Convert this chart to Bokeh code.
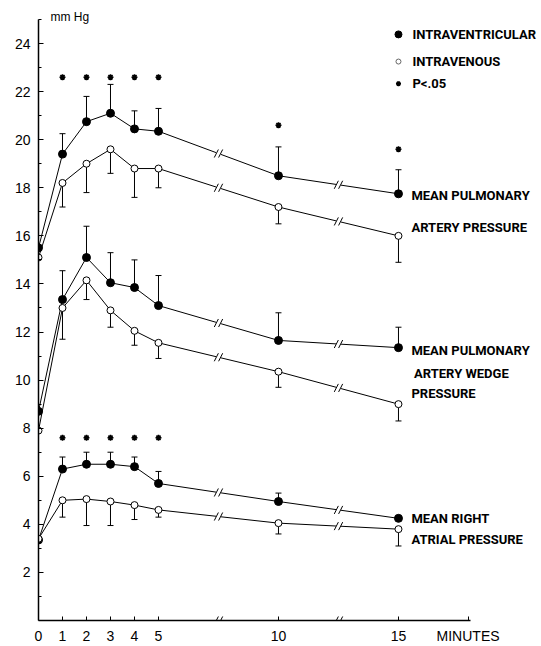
import numpy as np
from bokeh.plotting import figure
from bokeh.models import ColumnDataSource, Whisker, TeeHead, FixedTicker, Range1d
from bokeh.core.properties import value
from bokeh.embed import file_html
from bokeh.resources import INLINE

# ---------------- data ----------------
minutes = [0, 1, 2, 3, 4, 5, 10, 15]
x_tick_values = [0, 1, 2, 3, 4, 5, 10, 15]
x_title = "MINUTES"
y_tick_values = [2, 4, 6, 8, 10, 12, 14, 16, 18, 20, 22, 24]
y_minor_values = [1, 3, 5, 7, 9, 11, 13, 15, 17, 19, 21, 23, 25]
break_minutes = [7.5, 12.5]

# Mean pulmonary artery pressure
mpap_ventricular = [15.5, 19.4, 20.75, 21.1, 20.45, 20.35, 18.5, 17.75]
mpap_ventricular_upper = [None, 20.25, 21.8, 22.3, 21.2, 21.3, 19.7, 18.75]
mpap_venous = [15.1, 18.2, 19.0, 19.6, 18.8, 18.8, 17.2, 16.0]
mpap_venous_lower = [None, 17.2, 17.8, 18.6, 17.6, 18.0, 16.5, 14.9]
mpap_sig_minutes = [1, 2, 3, 4, 5, 10, 15]
mpap_sig_y = [22.6, 22.6, 22.6, 22.6, 22.6, 20.6, 19.6]

# Mean pulmonary artery wedge pressure
mpaw_ventricular = [8.7, 13.35, 15.1, 14.05, 13.85, 13.1, 11.65, 11.35]
mpaw_ventricular_upper = [None, 14.55, 16.4, 15.3, 15.0, 14.35, 12.8, 12.2]
mpaw_venous = [7.9, 13.0, 14.15, 12.9, 12.05, 11.55, 10.35, 9.0]
mpaw_venous_lower = [None, 11.7, 13.35, 12.2, 11.45, 10.9, 9.7, 8.3]

# Mean right atrial pressure
mrap_ventricular = [3.35, 6.3, 6.5, 6.5, 6.4, 5.7, 4.95, 4.25]
mrap_ventricular_upper = [None, 6.8, 7.0, 7.0, 6.8, 6.2, 5.3, None]
mrap_venous = [3.4, 5.0, 5.05, 4.95, 4.8, 4.6, 4.05, 3.8]
mrap_venous_lower = [None, 4.3, 3.95, 3.95, 4.2, 4.3, 3.6, 3.1]
mrap_sig_minutes = [1, 2, 3, 4, 5]
mrap_sig_y = [7.6, 7.6, 7.6, 7.6, 7.6]

legend_texts = ["INTRAVENTRICULAR", "INTRAVENOUS", "P<.05"]
group_texts = ["MEAN PULMONARY", "ARTERY PRESSURE",
               "MEAN PULMONARY", "ARTERY WEDGE", "PRESSURE",
               "MEAN RIGHT", "ATRIAL PRESSURE"]

# ---------------- layout (positions only) ----------------
legend_x_marker = 15.0
legend_x_text = 15.58
legend_y = [24.38, 23.25, 22.33]
group_x = [15.54, 15.54, 15.54, 15.65, 15.54, 15.54, 15.54]
group_y = [17.67, 16.33, 11.22, 10.29, 9.46, 4.25, 3.38]
x_title_pos = 17.9

BOLD_NAME = "Roboto"
BOLD_FONT = value(BOLD_NAME)

p = figure(width=541, height=646, frame_width=503, frame_height=620,
           x_range=Range1d(0, 20.96), y_range=Range1d(0, 25.79),
           output_backend="svg", toolbar_location=None,
           min_border_left=38, min_border_right=0, min_border_top=0,
           min_border_bottom=26)
p.outline_line_color = None
p.xgrid.visible = False
p.ygrid.visible = False
p.background_fill_color = "white"
p.border_fill_color = "white"

# axes
xa = p.xaxis[0]
xa.bounds = (0, 18)
xa.ticker = FixedTicker(ticks=x_tick_values + [x_title_pos])
xa.major_label_overrides = {x_title_pos: x_title}
xa.major_tick_in = 4
xa.major_tick_out = 0
xa.minor_tick_line_color = None
xa.major_label_standoff = 7
xa.major_label_text_font = "Liberation Sans"
xa.major_label_text_font_size = "14px"
xa.major_label_text_color = "black"
xa.axis_line_color = "black"
xa.axis_line_width = 1.5

ya = p.yaxis[0]
ya.bounds = (0, 25)
ya.ticker = FixedTicker(ticks=y_tick_values, minor_ticks=y_minor_values)
ya.major_tick_in = 5
ya.major_tick_out = 0
ya.minor_tick_in = 3
ya.minor_tick_out = 0
ya.major_label_standoff = 8
ya.major_label_text_font = "Liberation Sans"
ya.major_label_text_font_size = "14px"
ya.major_label_text_color = "black"
ya.axis_line_color = "black"
ya.axis_line_width = 1.5


def bars(xs, base, ends, up):
    bx, lo, hi = [], [], []
    for x, b, e in zip(xs, base, ends):
        if e is None:
            continue
        bx.append(x)
        lo.append(min(b, e))
        hi.append(max(b, e))
    src = ColumnDataSource(dict(x=bx, lower=lo, upper=hi))
    w = Whisker(source=src, base="x", lower="lower", upper="upper",
                dimension="height", line_color="black", line_width=1)
    if up:
        w.upper_head = TeeHead(size=6, line_width=1, line_color="black")
        w.lower_head = None
    else:
        w.lower_head = TeeHead(size=6, line_width=1, line_color="black")
        w.upper_head = None
    p.add_layout(w)


series = [
    (mpap_ventricular, mpap_ventricular_upper, True),
    (mpap_venous, mpap_venous_lower, False),
    (mpaw_ventricular, mpaw_ventricular_upper, True),
    (mpaw_venous, mpaw_venous_lower, False),
    (mrap_ventricular, mrap_ventricular_upper, True),
    (mrap_venous, mrap_venous_lower, False),
]

for vals, errs, filled in series:
    bars(minutes, vals, errs, filled)
    p.line(minutes, vals, line_color="black", line_width=1)

# break marks on lines and on the time axis
bxs, bys = [], []
for vals, errs, filled in series:
    for b in break_minutes:
        bxs.append(b)
        bys.append(float(np.interp(b, minutes, vals)))
for b in break_minutes:
    bxs.append(b)
    bys.append(0.0)
p.scatter(bxs, bys, marker="square", size=5, fill_color="white", line_color=None)
p.scatter([x - 0.09 for x in bxs], bys, marker="dash", size=9, angle=1.1,
          line_color="black", line_width=1)
p.scatter([x + 0.09 for x in bxs], bys, marker="dash", size=9, angle=1.1,
          line_color="black", line_width=1)

for vals, errs, filled in series:
    if filled:
        p.scatter(minutes, vals, marker="circle", size=8, fill_color="black",
                  line_color="black")
    else:
        p.scatter(minutes, vals, marker="circle", size=7, fill_color="white",
                  line_color="black", line_width=1)

# significance asterisks
p.scatter(mpap_sig_minutes, mpap_sig_y, marker="asterisk", size=6,
          line_color="black", line_width=1.6)
p.scatter(mrap_sig_minutes, mrap_sig_y, marker="asterisk", size=6,
          line_color="black", line_width=1.6)

# legend
p.scatter([legend_x_marker], [legend_y[0]], marker="circle", size=7,
          fill_color="black", line_color="black")
p.scatter([legend_x_marker], [legend_y[1]], marker="circle", size=5,
          fill_color="white", line_color="#666666", line_width=1)
p.scatter([legend_x_marker], [legend_y[2]], marker="asterisk", size=5,
          line_color="black", line_width=1.6)
p.text(x=[legend_x_text] * 3, y=legend_y, text=legend_texts,
       text_font=BOLD_FONT, text_font_style="bold", text_font_size="13px",
       text_baseline="middle", text_align="left", text_color="black")

# group labels
p.text(x=group_x, y=group_y, text=group_texts,
       text_font=BOLD_FONT, text_font_style="bold", text_font_size="13px",
       text_baseline="middle", text_align="left", text_color="black")

# unit label
p.text(x=[0.5], y=[25.1], text=["mm Hg"], text_font=value("Liberation Sans"),
       text_font_size="12px", text_baseline="middle", text_align="left",
       text_color="black")

open("out.html", "w").write(file_html(p, INLINE))
